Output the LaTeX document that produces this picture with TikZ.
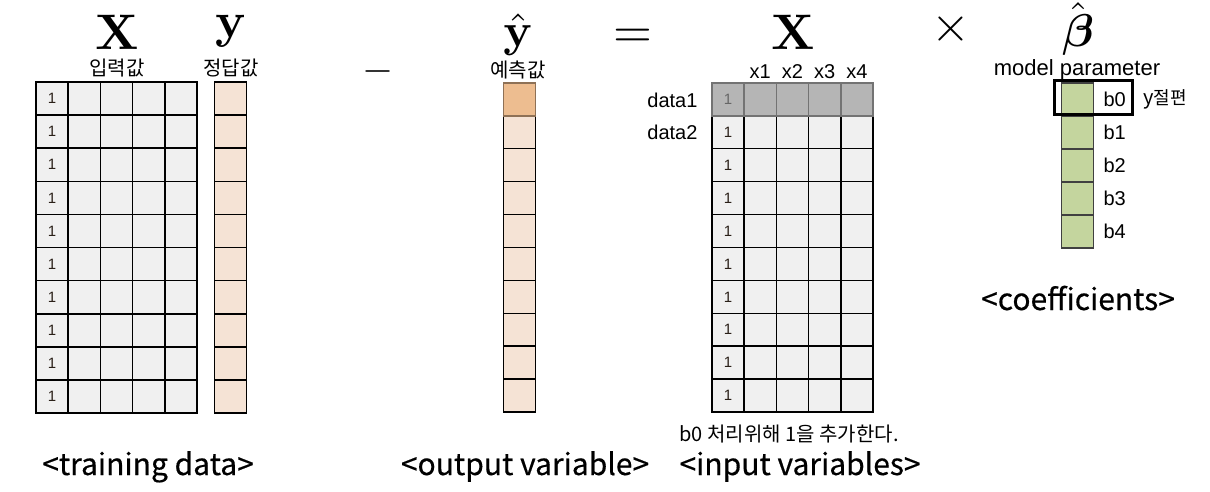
\documentclass[tikz,border=0pt]{standalone}
\usepackage{amsmath}
\usepackage[no-math]{fontspec}
\setmainfont{Liberation Sans}
\newfontfamily\kr{Noto Sans CJK KR}
\newfontfamily\krcap{Noto Sans CJK KR}[FakeBold=0.4]
\definecolor{cellgray}{HTML}{F0F0F0}
\definecolor{peach}{HTML}{F5E3D5}
\definecolor{peachdark}{HTML}{EDBD90}
\definecolor{rowgray}{HTML}{B5B5B5}
\definecolor{betagreen}{HTML}{C4D59E}
\definecolor{onecol}{HTML}{2A2018}
\newcommand{\mysym}[2]{\scalebox{#1}{\normalsize$#2$}}
\begin{document}
\begin{tikzpicture}[x=1pt,y=-1pt,
  cell/.style={draw=black,line width=1.5pt,inner sep=0pt,outer sep=0pt,
     minimum width=32.2pt,minimum height=33pt},
  xcell/.style={cell,fill=cellgray},
  ycell/.style={cell,fill=peach},
  bcell/.style={cell,fill=betagreen,draw=black!75,line width=1.1pt},
  onelab/.style={font=\fontsize{15}{15}\selectfont,text=onecol},
  bigsym/.style={anchor=base,inner sep=0pt},
  krlab/.style={font=\kr\fontsize{20}{20}\selectfont},
  latlab/.style={font=\fontsize{20}{20}\selectfont},
  captext/.style={font=\krcap\fontsize{30}{30}\selectfont,anchor=base}]
\fill[white] (0,0) rectangle (1210,492);
\useasboundingbox (0,0) rectangle (1210,492);
% ---- training data: X
\foreach \r in {0,...,9}{
  \foreach \c in {0,...,4}{
    \node[xcell] (L-\r-\c) at ({36+16.1+32.2*\c},{82+16.55+33.1*\r}) {};
  }
  \node[onelab] (L1-\r) at (L-\r-0) {1};
  \node[ycell] (Y-\r) at (230.5,{82+16.55+33.1*\r}) {};
}
\node[bigsym] (labX1) at (117,50) {\mysym{5}{\mathbf{X}}};
\node[bigsym] (laby1) at (231,38) {\mysym{5}{\mathbf{y}}};
\node[krlab] (kr1) at (117,68) {입력값};
\node[krlab] (kr2) at (231,68) {정답값};
% ---- minus
\node[inner sep=0pt] (minus) at (378,72) {\mysym{4}{-}};
% ---- y hat
\foreach \r in {0,...,9}{
  \node[ycell] (H-\r) at (519.5,{83+16.45+32.9*\r}) {};
}
\node[cell,fill=peachdark,draw=peachdark!60!black] (H-0b) at (H-0) {};
\node[bigsym] (labyh) at (518,47) {\mysym{4.7}{\hat{\mathbf{y}}}};
\node[krlab] (kr3) at (518,70) {예측값};
% ---- equals
\node[inner sep=0pt] (eq) at (633,38) {\mysym{5}{=}};
% ---- input variables X
\foreach \r in {0,...,9}{
  \foreach \c in {0,...,4}{
    \node[xcell] (R-\r-\c) at ({712+16.1+32.2*\c},{83+16.45+32.9*\r}) {};
  }
  \node[onelab] (R1-\r) at (R-\r-0) {1};
}
\foreach \c in {0,...,4}{
  \node[cell,fill=rowgray,draw=black!55] (R-0-\c b) at (R-0-\c) {};
}
\node[onelab,text=black!60] (R1-0b) at (R-0-0) {1};
\node[bigsym] (labX2) at (793,50) {\mysym{5}{\mathbf{X}}};
\node[latlab,anchor=base] (x1) at (R-0-1 |- 0,79) {x1};
\node[latlab,anchor=base] (x2) at (R-0-2 |- 0,79) {x2};
\node[latlab,anchor=base] (x3) at (R-0-3 |- 0,79) {x3};
\node[latlab,anchor=base] (x4) at (R-0-4 |- 0,79) {x4};
\node[latlab,anchor=east] (d1) at (701,100) {data1};
\node[latlab,anchor=east] (d2) at (701,132) {data2};
\node[krlab,anchor=base] (note) at (789,441) {b0 처리위해 1을 추가한다.};
% ---- times
\node[inner sep=0pt] (times) at (951,29) {\mysym{5}{\times}};
% ---- beta
\foreach \r in {0,...,4}{
  \node[bcell] (B-\r) at (1077.5,{83+16.5+33*\r}) {};
  \node[latlab,anchor=west] (b\r) at (1100,{99.5+33*\r}) {b\r};
}
\node[bigsym] (labB) at (1078,47) {\mysym{4.6}{\hat{\boldsymbol{\beta}}}};
\node[latlab,anchor=base,font=\fontsize{22}{22}\selectfont] (mp) at (1077,76) {model parameter};
\node[draw=black,line width=3pt,inner sep=0pt,minimum width=78pt,minimum height=34pt] (box) at (1093,97.5) {};
\node[krlab,anchor=west,font=\kr\fontsize{18}{18}\selectfont] (yint) at (1140,99) {{\fontsize{20}{20}\selectfont y}절편};
% ---- captions
\node[captext] (c1) at (148,475) {<training data>};
\node[captext] (c2) at (525,475) {<output variable>};
\node[captext] (c3) at (800,475) {<input variables>};
\node[captext] (c4) at (1078,310) {<coefficients>};
\end{tikzpicture}
\end{document}
